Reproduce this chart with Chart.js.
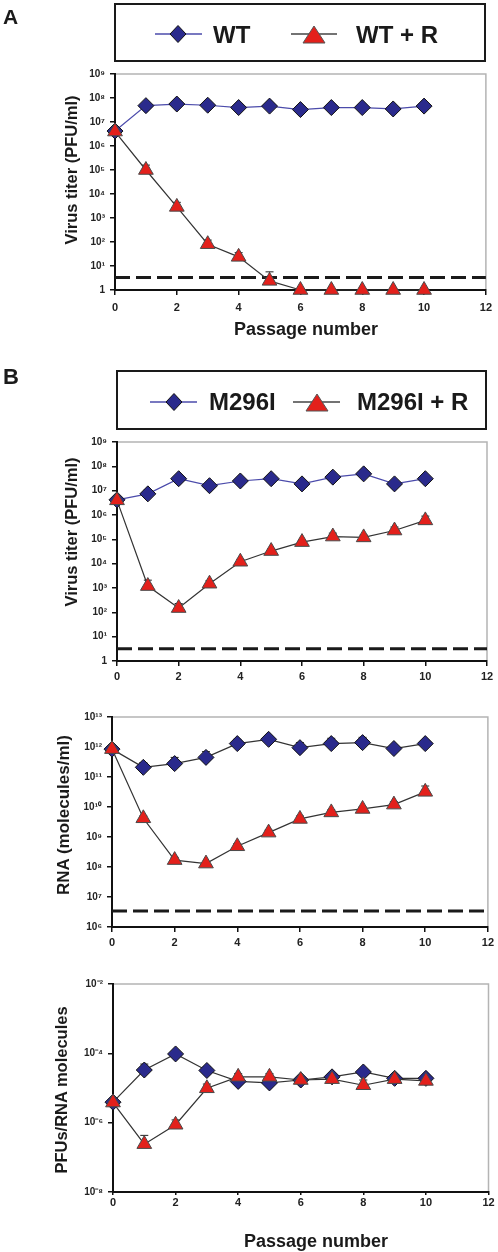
<!DOCTYPE html>
<html>
<head>
<meta charset="utf-8">
<script src="https://cdn.jsdelivr.net/npm/chart.js@4.4.1/dist/chart.umd.min.js"></script>
<style>
  body { margin: 0; background: #fff; }
  #page { position: relative; width: 498px; height: 1252px; overflow: hidden; background: #fff; }
  #page canvas { position: absolute; left: 0; }
  #overlay { position: absolute; left: 0; top: 0; }
</style>
</head>
<body>
<div id="page">
  <canvas id="chartA" width="498" height="257" style="top:63px"></canvas>
  <canvas id="chartB1" width="498" height="260" style="top:431px"></canvas>
  <canvas id="chartB2" width="498" height="251" style="top:706px"></canvas>
  <canvas id="chartB3" width="498" height="249" style="top:973px"></canvas>

  <svg id="overlay" width="498" height="1252" font-family="Liberation Sans, Arial, sans-serif" font-weight="bold" fill="#1a1a1a">
    <!-- panel letters -->
    <text x="3" y="24" font-size="21">A</text>
    <text x="3" y="384" font-size="22">B</text>

    <!-- legend A -->
    <rect x="115" y="4" width="370" height="57" fill="none" stroke="#1a1a1a" stroke-width="2"/>
    <line x1="155" y1="34" x2="202" y2="34" stroke="#4b4bab" stroke-width="1.3"/>
    <polygon points="178,25.5 186,34 178,42.5 170,34" fill="#2a2a8c" stroke="#111" stroke-width="1"/>
    <line x1="291" y1="34" x2="337" y2="34" stroke="#444" stroke-width="1.3"/>
    <polygon points="314,26 325,43 303,43" fill="#e3201b" stroke="#555" stroke-width="1"/>
    <text x="213" y="43" font-size="24">WT</text>
    <text x="356" y="43" font-size="24">WT + R</text>

    <!-- legend B -->
    <rect x="117" y="371" width="369" height="58" fill="none" stroke="#1a1a1a" stroke-width="2"/>
    <line x1="150" y1="402" x2="197" y2="402" stroke="#4b4bab" stroke-width="1.3"/>
    <polygon points="174,393.5 182,402 174,410.5 166,402" fill="#2a2a8c" stroke="#111" stroke-width="1"/>
    <line x1="293" y1="402" x2="340" y2="402" stroke="#444" stroke-width="1.3"/>
    <polygon points="317,394 328,411 306,411" fill="#e3201b" stroke="#555" stroke-width="1"/>
    <text x="209" y="410" font-size="24">M296I</text>
    <text x="357" y="410" font-size="24">M296I + R</text>

    <!-- axis titles -->
    <text transform="translate(70.5,170) rotate(-90)" text-anchor="middle" dominant-baseline="central" font-size="16.5">Virus titer (PFU/ml)</text>
    <text x="306" y="329" text-anchor="middle" dominant-baseline="central" font-size="18">Passage number</text>
    <text transform="translate(70.5,532) rotate(-90)" text-anchor="middle" dominant-baseline="central" font-size="16.5">Virus titer (PFU/ml)</text>
    <text transform="translate(63.5,815) rotate(-90)" text-anchor="middle" dominant-baseline="central" font-size="17">RNA (molecules/ml)</text>
    <text transform="translate(61,1090) rotate(-90)" text-anchor="middle" dominant-baseline="central" font-size="16.5">PFUs/RNA molecules</text>
    <text x="316" y="1241" text-anchor="middle" dominant-baseline="central" font-size="18">Passage number</text>
  </svg>
</div>

<script>
// passage numbers and x ticks
const passage = [0, 1, 2, 3, 4, 5, 6, 7, 8, 9, 10]
const xTicks = [0, 2, 4, 6, 8, 10, 12]
const xTickLabels = ['0', '2', '4', '6', '8', '10', '12']

// panel A - virus titer (PFU/ml)
const wtTiter = [4.2e6, 4.8e7, 5.6e7, 5.0e7, 4.0e7, 4.6e7, 3.3e7, 4.0e7, 4.0e7, 3.5e7, 4.6e7]
const wtTiterErr = [null, 5.4e7, 6.2e7, 5.6e7, 4.5e7, 5.2e7, 3.7e7, 4.5e7, 4.5e7, 4.0e7, 5.2e7]
const wtRTiter = [4.0e6, 1.0e5, 2.9e3, 81, 24, 2.4, 1, 1, 1, 1, 1]
const wtRTiterErr = [null, 1.6e5, 4.5e3, 120, 36, 5.7, null, null, null, null, null]
const limitA = 3.3
const yTicksA = [1, 1e1, 1e2, 1e3, 1e4, 1e5, 1e6, 1e7, 1e8, 1e9]
const yLabelsA = ['1', '10¹', '10²', '10³', '10⁴', '10⁵', '10⁶', '10⁷', '10⁸', '10⁹']

// panel B top - virus titer (PFU/ml)
const mTiter = [4.2e6, 7.4e6, 3.1e7, 1.6e7, 2.5e7, 3.1e7, 1.9e7, 3.6e7, 4.9e7, 1.9e7, 3.1e7]
const mTiterErr = [null, 1.1e7, 3.6e7, 1.9e7, 2.9e7, 3.6e7, 2.2e7, 4.2e7, 5.6e7, 2.2e7, 3.5e7]
const mRTiter = [4.0e6, 1.2e3, 150, 1.5e3, 1.2e4, 3.3e4, 7.7e4, 1.3e5, 1.2e5, 2.3e5, 6.0e5]
const mRTiterErr = [null, 2.1e3, 230, 2.0e3, 1.5e4, 4.0e4, 9.0e4, 1.8e5, 1.5e5, 3.2e5, 9.0e5]
const limitB1 = 3.2

// panel B middle - RNA (molecules/ml)
const mRna = [8.5e11, 2.1e11, 2.8e11, 4.5e11, 1.3e12, 1.8e12, 9.5e11, 1.3e12, 1.4e12, 8.9e11, 1.3e12]
const mRnaErr = [null, 3.0e11, 4.5e11, 7.0e11, 1.8e12, 2.3e12, 1.4e12, 1.95e12, 2.1e12, null, 1.6e12]
const mRRna = [8.5e11, 4.2e9, 1.7e8, 1.3e8, 4.9e8, 1.4e9, 4.0e9, 6.6e9, 8.6e9, 1.2e10, 3.2e10]
const mRRnaErr = [null, 5.0e9, 2.1e8, null, 6.0e8, 1.7e9, 5.0e9, 8.0e9, 1.0e10, 1.5e10, 5.0e10]
const limitB2 = 3.4e6
const yTicksB2 = [1e6, 1e7, 1e8, 1e9, 1e10, 1e11, 1e12, 1e13]
const yLabelsB2 = ['10⁶', '10⁷', '10⁸', '10⁹', '10¹⁰', '10¹¹', '10¹²', '10¹³']

// panel B bottom - PFUs/RNA molecules
const mRatio = [3.9e-6, 3.3e-5, 9.6e-5, 3.2e-5, 1.55e-5, 1.4e-5, 1.7e-5, 2.1e-5, 2.9e-5, 1.9e-5, 1.9e-5]
const mRatioErr = [null, 4.9e-5, 1.1e-4, 4.1e-5, null, null, null, null, null, null, null]
const mRRatio = [3.8e-6, 2.4e-7, 8.7e-7, 9.8e-6, 2.1e-5, 2.1e-5, 1.7e-5, 1.8e-5, 1.2e-5, 1.8e-5, 1.6e-5]
const mRRatioErr = [null, 4.3e-7, 1.2e-6, 1.3e-5, 2.6e-5, 2.6e-5, 2.0e-5, null, 1.7e-5, null, null]
const yTicksB3 = [1e-8, 1e-6, 1e-4, 1e-2]
const yLabelsB3 = ['10⁻⁸', '10⁻⁶', '10⁻⁴', '10⁻²']

const FONT = "'Liberation Sans', Arial, sans-serif"

function pts(vals) {
  return vals.map((v, i) => ({ x: passage[i], y: v }))
}

// light grey top / right frame of the plot area
const frame = {
  id: 'frame',
  beforeDatasetsDraw(chart) {
    const a = chart.chartArea, ctx = chart.ctx
    ctx.save()
    ctx.strokeStyle = '#b4b4b4'
    ctx.lineWidth = 1.5
    ctx.beginPath()
    ctx.moveTo(a.left + 1, a.top)
    ctx.lineTo(a.right, a.top)
    ctx.lineTo(a.right, a.bottom - 1)
    ctx.stroke()
    ctx.restore()
  }
}

// upper error bars, drawn under the markers
const errorBars = {
  id: 'errorBars',
  beforeDatasetsDraw(chart) {
    const ctx = chart.ctx, xs = chart.scales.x, ys = chart.scales.y
    ctx.save()
    ctx.strokeStyle = '#222'
    ctx.lineWidth = 1
    chart.data.datasets.forEach(ds => {
      if (!ds.errUp) return
      ds.errUp.forEach((e, i) => {
        if (e == null) return
        const x = xs.getPixelForValue(passage[i])
        const y0 = ys.getPixelForValue(ds.data[i].y)
        const y1 = ys.getPixelForValue(e)
        ctx.beginPath()
        ctx.moveTo(x, y0); ctx.lineTo(x, y1)
        ctx.moveTo(x - 4, y1); ctx.lineTo(x + 4, y1)
        ctx.stroke()
      })
    })
    ctx.restore()
  }
}

function makeChart(id, p) {
  const datasets = [
    {
      label: p.names[1], data: pts(p.tri), errUp: p.triErr, order: 0, clip: false,
      borderColor: '#333', borderWidth: 1.2,
      pointStyle: 'triangle', pointRadius: 8.5,
      pointBackgroundColor: '#e3201b', pointBorderColor: '#4a4a4a', pointBorderWidth: 1
    },
    {
      label: p.names[0], data: pts(p.dia), errUp: p.diaErr, order: 1, clip: false,
      borderColor: p.diaLine, borderWidth: 1.2,
      pointStyle: 'rectRot', pointRadius: 8,
      pointBackgroundColor: '#2a2a8c', pointBorderColor: '#111', pointBorderWidth: 1
    }
  ]
  if (p.limit != null) {
    datasets.push({
      label: 'limit', data: [{ x: 0, y: p.limit }, { x: 12, y: p.limit }], order: 2, clip: false,
      borderColor: '#1a1a1a', borderWidth: 3, borderDash: [15, 6], pointRadius: 0
    })
  }

  return new Chart(document.getElementById(id), {
    type: 'line',
    data: { datasets: datasets },
    plugins: [frame, errorBars],
    options: {
      responsive: false,
      animation: false,
      layout: { padding: { top: 10, right: p.right, left: 0, bottom: 0 } },
      plugins: { legend: { display: false }, tooltip: { enabled: false } },
      scales: {
        x: {
          type: 'linear', min: 0, max: 12,
          afterBuildTicks: s => { s.ticks = xTicks.map(v => ({ value: v })) },
          afterFit: s => { s.height = 30 },
          grid: { drawOnChartArea: false, tickLength: p.xTick, color: '#111', lineWidth: 1.5 },
          border: { color: '#111', width: 2 },
          ticks: {
            autoSkip: false, maxRotation: 0, padding: p.xPad, color: '#222',
            font: { family: FONT, size: 11, weight: 'bold' },
            callback: (v, i) => xTickLabels[i]
          }
        },
        y: {
          type: 'logarithmic', min: p.yTicks[0], max: p.yTicks[p.yTicks.length - 1],
          afterBuildTicks: s => { s.ticks = p.yTicks.map(v => ({ value: v })) },
          afterFit: s => { s.width = p.left },
          grid: { drawOnChartArea: false, tickLength: 5, color: '#111', lineWidth: 1.5 },
          border: { color: '#111', width: 2 },
          ticks: {
            autoSkip: false, padding: p.yPad, color: '#222',
            font: { family: FONT, size: 10, weight: 'bold' },
            callback: (v, i) => p.yLabels[i]
          }
        }
      }
    }
  })
}

makeChart('chartA', {
  names: ['WT', 'WT + R'], dia: wtTiter, diaErr: wtTiterErr, tri: wtRTiter, triErr: wtRTiterErr,
  diaLine: '#4b4bab', limit: limitA, yTicks: yTicksA, yLabels: yLabelsA,
  left: 115, right: 12, xTick: 5, xPad: 6, yPad: 5
})

makeChart('chartB1', {
  names: ['M296I', 'M296I + R'], dia: mTiter, diaErr: mTiterErr, tri: mRTiter, triErr: mRTiterErr,
  diaLine: '#4b4bab', limit: limitB1, yTicks: yTicksA, yLabels: yLabelsA,
  left: 117, right: 11, xTick: 5, xPad: 4, yPad: 5
})

makeChart('chartB2', {
  names: ['M296I', 'M296I + R'], dia: mRna, diaErr: mRnaErr, tri: mRRna, triErr: mRRnaErr,
  diaLine: '#333', limit: limitB2, yTicks: yTicksB2, yLabels: yLabelsB2,
  left: 112, right: 10, xTick: 5, xPad: 4, yPad: 5
})

makeChart('chartB3', {
  names: ['M296I', 'M296I + R'], dia: mRatio, diaErr: mRatioErr, tri: mRRatio, triErr: mRRatioErr,
  diaLine: '#333', limit: null, yTicks: yTicksB3, yLabels: yLabelsB3,
  left: 113, right: 8, xTick: 3, xPad: 1, yPad: 5
})
</script>
</body>
</html>
